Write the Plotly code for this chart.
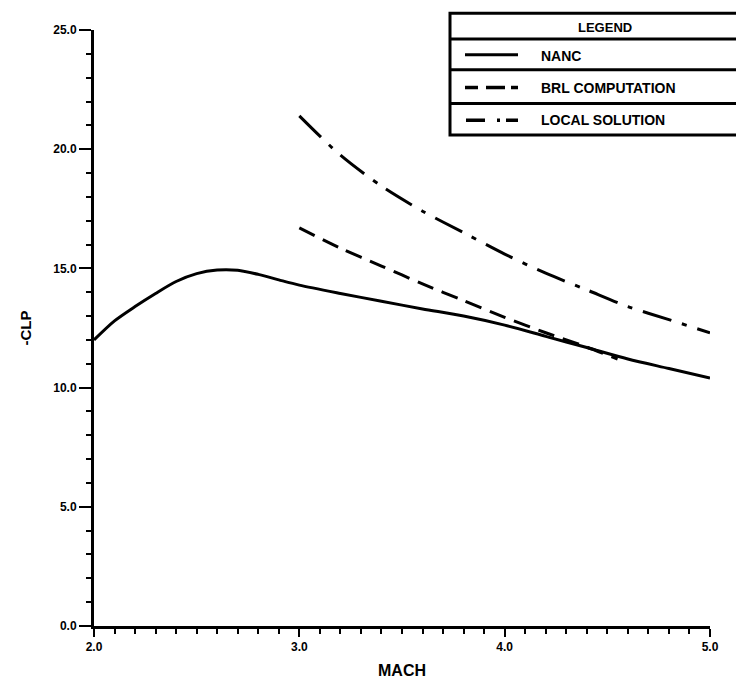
import plotly.graph_objects as go

# ---- data ----
nanc_mach = [2.0, 2.1, 2.2, 2.3, 2.4, 2.5, 2.6, 2.7, 2.8, 2.9, 3.0, 3.2, 3.4, 3.6, 3.8, 4.0, 4.2, 4.4, 4.6, 4.8, 5.0]
nanc_clp = [12.0, 12.8, 13.4, 13.95, 14.45, 14.78, 14.93, 14.92, 14.75, 14.52, 14.3, 13.95, 13.62, 13.3, 13.0, 12.62, 12.15, 11.68, 11.2, 10.8, 10.4]

brl_mach = [3.0, 3.2, 3.4, 3.6, 3.8, 4.0, 4.2, 4.4, 4.55]
brl_clp = [16.7, 15.85, 15.1, 14.35, 13.65, 12.95, 12.3, 11.7, 11.2]

local_mach = [3.0, 3.2, 3.4, 3.6, 3.8, 4.0, 4.2, 4.4, 4.6, 4.8, 5.0]
local_clp = [21.4, 19.75, 18.45, 17.4, 16.5, 15.6, 14.8, 14.1, 13.4, 12.85, 12.3]

x_ticks = [2.0, 3.0, 4.0, 5.0]
x_tick_labels = ["2.0", "3.0", "4.0", "5.0"]
y_ticks = [0, 5, 10, 15, 20, 25]
y_tick_labels = ["0.0", "5.0", "10.0", "15.0", "20.0", "25.0"]

legend_title = "LEGEND"
legend_names = ["NANC", "BRL COMPUTATION", "LOCAL SOLUTION"]

# ---- layout geometry (pixels) ----
W, H = 744, 682
L, R, T, B = 86, 42, 22, 59
PW, PH = W - L - R, H - T - B

def px(x):
    return (x - L) / PW

def py(y):
    return (H - B - y) / PH

FONT = "Liberation Sans"
BLACK = "black"

fig = go.Figure()
fig.add_trace(go.Scatter(x=nanc_mach, y=nanc_clp, mode="lines", name=legend_names[0],
                         line=dict(color=BLACK, width=3, shape="spline", smoothing=0.8)))
fig.add_trace(go.Scatter(x=brl_mach, y=brl_clp, mode="lines", name=legend_names[1],
                         line=dict(color=BLACK, width=3, shape="spline", smoothing=0.8, dash="17px,9px")))
fig.add_trace(go.Scatter(x=local_mach, y=local_clp, mode="lines", name=legend_names[2],
                         line=dict(color=BLACK, width=3, shape="spline", smoothing=0.8,
                                   dash="30px,11px,5px,11px")))

shapes = []
# legend box
bx0, bx1, by0, by1 = 442, 740, 5, 128
row_lines = [31, 62, 96]
shapes.append(dict(type="rect", xref="paper", yref="paper", x0=px(bx0), x1=px(bx1), y0=py(by1), y1=py(by0),
                   line=dict(color=BLACK, width=3)))
for ry in row_lines:
    shapes.append(dict(type="line", xref="paper", yref="paper", x0=px(bx0), x1=px(bx1), y0=py(ry), y1=py(ry),
                       line=dict(color=BLACK, width=3)))
# legend samples
shapes.append(dict(type="line", xref="paper", yref="paper", x0=px(457), x1=px(510), y0=py(47), y1=py(47),
                   line=dict(color=BLACK, width=3)))
for a, b in [(457, 470), (478, 497), (503, 510)]:
    shapes.append(dict(type="line", xref="paper", yref="paper", x0=px(a), x1=px(b), y0=py(80), y1=py(80),
                       line=dict(color=BLACK, width=3.5)))
for a, b in [(458, 477), (489, 492), (498, 510)]:
    shapes.append(dict(type="line", xref="paper", yref="paper", x0=px(a), x1=px(b), y0=py(113), y1=py(113),
                       line=dict(color=BLACK, width=3.5)))

annotations = [
    dict(text="<b>%s</b>" % legend_title, xref="paper", yref="paper", x=px(597), y=py(19),
         showarrow=False, xanchor="center", yanchor="middle", font=dict(family=FONT, size=13, color=BLACK)),
]
for name, ty in zip(legend_names, [48, 80, 113]):
    annotations.append(dict(text="<b>%s</b>" % name, xref="paper", yref="paper", x=px(531), y=py(ty),
                            showarrow=False, xanchor="left", yanchor="middle",
                            font=dict(family=FONT, size=14, color=BLACK)))

fig.update_layout(
    width=W, height=H,
    margin=dict(l=L, r=R, t=T, b=B, pad=0),
    paper_bgcolor="white", plot_bgcolor="white",
    showlegend=False,
    font=dict(family=FONT, color=BLACK),
    shapes=shapes,
    annotations=annotations,
    xaxis=dict(
        range=[2, 5], tickvals=x_ticks, ticktext=["<b>%s</b>" % t for t in x_tick_labels],
        showgrid=False, zeroline=False, showline=True, linecolor=BLACK, linewidth=3,
        ticks="outside", ticklen=8, tickwidth=2, tickcolor=BLACK,
        tickfont=dict(family=FONT, size=12, color=BLACK),
        minor=dict(dtick=0.1, ticks="outside", ticklen=5, tickwidth=2, tickcolor=BLACK, showgrid=False),
        title=dict(text="<b>MACH</b>", font=dict(family=FONT, size=16, color=BLACK), standoff=12),
    ),
    yaxis=dict(
        range=[0, 25], tickvals=y_ticks, ticktext=["<b>%s</b>" % t for t in y_tick_labels],
        showgrid=False, zeroline=False, showline=True, linecolor=BLACK, linewidth=3,
        ticks="outside", ticklen=12, tickwidth=2, tickcolor=BLACK,
        tickfont=dict(family=FONT, size=12, color=BLACK),
        minor=dict(dtick=1, ticks="outside", ticklen=5, tickwidth=2, tickcolor=BLACK, showgrid=False),
        title=dict(text="<b>-CLP</b>", font=dict(family=FONT, size=15, color=BLACK), standoff=18),
    ),
)

fig.write_html("out.html")
